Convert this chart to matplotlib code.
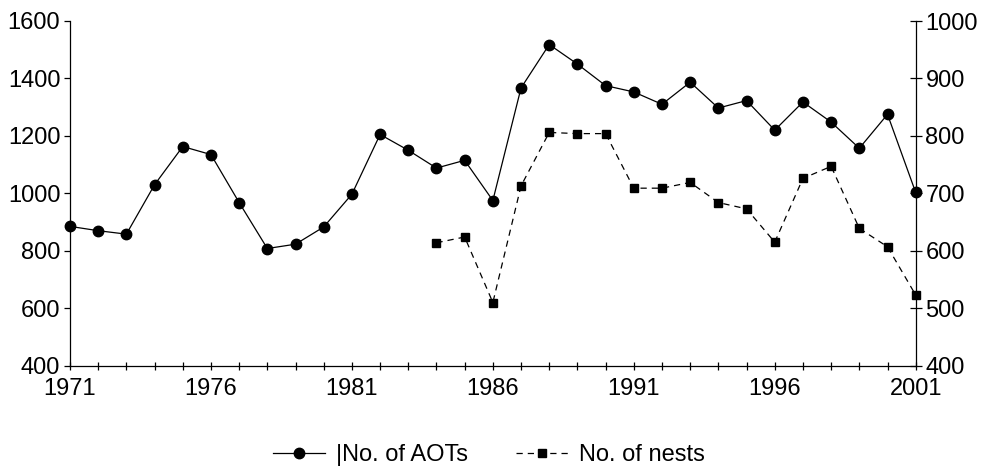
import matplotlib
matplotlib.use("Agg")
import matplotlib.pyplot as plt
from matplotlib.ticker import MultipleLocator

plt.rcParams['font.family'] = ['Liberation Sans', 'DejaVu Sans']

years = list(range(1971, 2002))
aots = [885, 870, 858, 1030, 1163, 1135, 968, 808, 823, 883,
        997, 1205, 1150, 1088, 1115, 975, 1367, 1518, 1450, 1375,
        1353, 1310, 1387, 1297, 1323, 1220, 1318, 1248, 1157, 1275, 1003]

nest_years = list(range(1984, 2002))
nests = [614, 624, 510, 713, 806, 804, 804, 709, 709, 719,
         684, 673, 615, 726, 747, 639, 607, 523]

fig = plt.figure(figsize=(9.84, 4.76), dpi=100)
ax = fig.add_axes([70 / 984, 1 - 365.7 / 476, 845.7 / 984, 344.7 / 476])
ax2 = ax.twinx()

l1, = ax.plot(years, aots, color='black', lw=0.9, marker='o', ms=7.5,
              label='|No. of AOTs', clip_on=False)
l2, = ax2.plot(nest_years, nests, color='black', lw=0.9, ls=(0, (5, 4)),
               marker='s', ms=6, label='No. of nests', clip_on=False)

ax.set_xlim(1971, 2001)
ax.set_ylim(400, 1600)
ax2.set_ylim(400, 1000)
ax.set_xticks(range(1971, 2002, 5))
ax.xaxis.set_minor_locator(MultipleLocator(1))
ax.yaxis.set_major_locator(MultipleLocator(200))
ax2.yaxis.set_major_locator(MultipleLocator(100))

for a in (ax, ax2):
    a.spines['top'].set_visible(False)
    for s in a.spines.values():
        s.set_linewidth(0.9)
ax.spines['right'].set_visible(False)
ax2.spines['left'].set_visible(False)
ax2.spines['bottom'].set_visible(False)

ax.tick_params(axis='x', which='both', direction='inout', length=6, width=0.9,
               labelsize=17, pad=6)
ax.tick_params(axis='y', direction='out', length=4, width=0.9, labelsize=17, pad=3)
ax2.tick_params(axis='y', direction='inout', length=8, width=0.9, labelsize=17, pad=3)

fig.legend(handles=[l1, l2], loc='center', bbox_to_anchor=(0.497, 1 - 455 / 476),
           ncol=2, frameon=False, fontsize=17, handlelength=2.2,
           handletextpad=0.5, columnspacing=2.0)

fig.savefig('out.png', dpi=100)
